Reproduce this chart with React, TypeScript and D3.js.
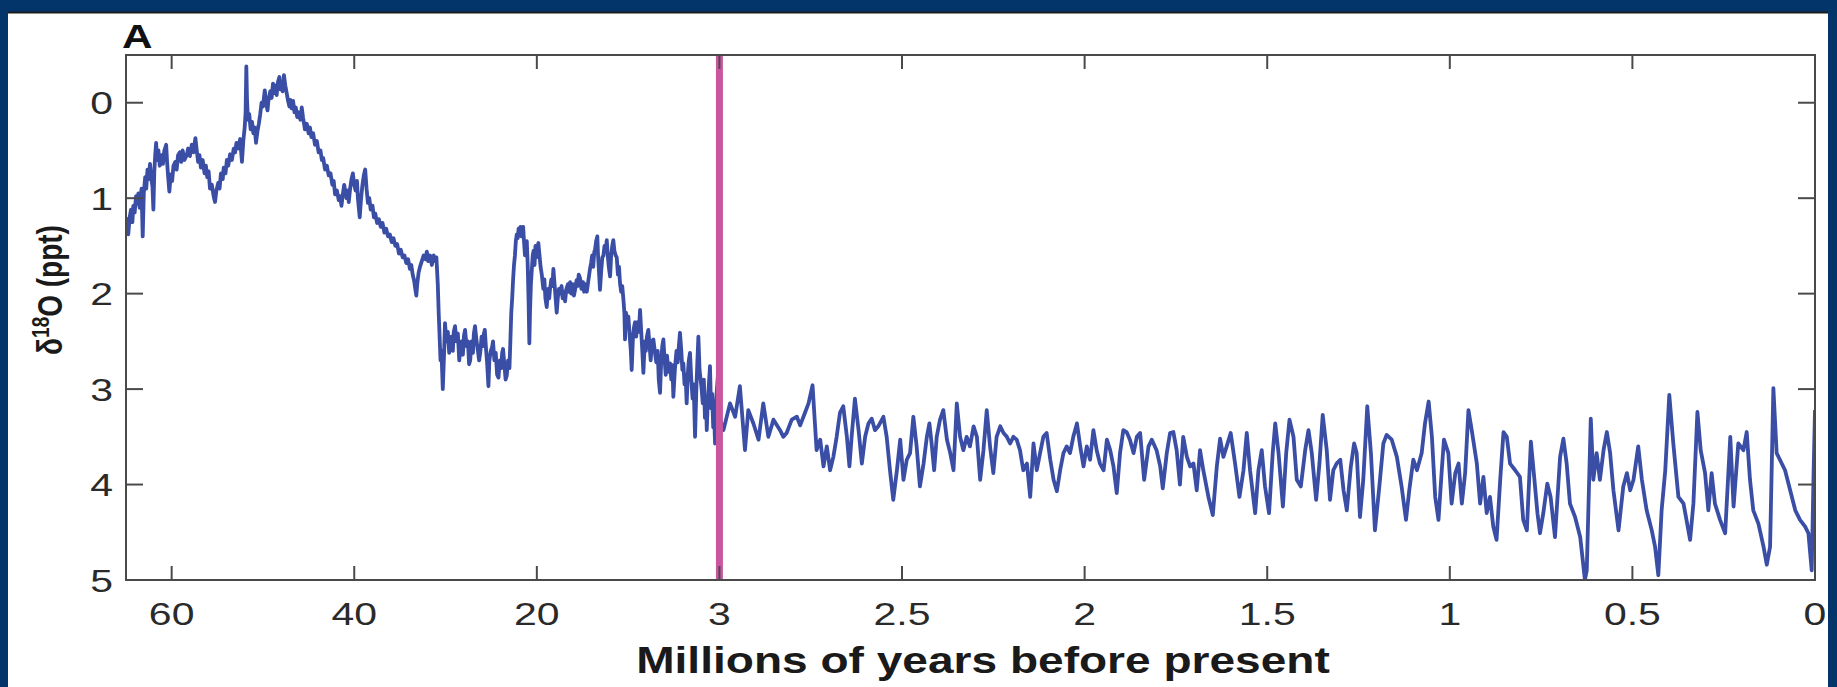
import React from "react";
import * as d3 from "d3";

// Benthic δ18O record, ages in Ma, values in per mil (ppt)
const paleoceneEocene: [number, number][] = [
  [65.0, 1.35], [64.85, 1.22], [64.75, 1.38], [64.6, 1.2], [64.45, 1.12], [64.3, 1.25], [64.2, 1.08],
  [64.05, 1.15], [63.9, 0.98], [63.8, 1.06], [63.65, 0.95], [63.5, 1.1], [63.3, 0.9], [63.17, 1.4],
  [63.05, 0.95], [62.9, 0.78], [62.78, 0.9], [62.65, 0.7], [62.5, 0.8], [62.37, 0.64], [62.25, 0.78],
  [62.1, 0.88], [62.0, 1.12], [61.9, 0.72], [61.8, 0.55], [61.7, 0.42], [61.6, 0.6], [61.45, 0.5],
  [61.3, 0.66], [61.1, 0.55], [60.95, 0.64], [60.8, 0.5], [60.6, 0.44], [60.5, 0.62], [60.38, 0.78],
  [60.25, 0.93], [60.1, 0.75], [59.95, 0.82], [59.8, 0.66], [59.6, 0.62], [59.45, 0.7], [59.3, 0.55],
  [59.1, 0.52], [58.95, 0.62], [58.8, 0.5], [58.6, 0.6], [58.35, 0.55], [58.2, 0.48], [58.0, 0.56],
  [57.8, 0.44], [57.6, 0.52], [57.4, 0.37], [57.25, 0.5], [57.1, 0.62], [56.95, 0.55], [56.8, 0.68],
  [56.6, 0.6], [56.4, 0.74], [56.25, 0.66], [56.1, 0.78], [55.95, 0.72], [55.8, 0.9], [55.6, 0.86],
  [55.4, 0.98], [55.25, 1.04], [55.1, 0.92], [54.9, 0.84], [54.75, 0.9], [54.6, 0.74], [54.4, 0.8],
  [54.3, 0.68], [54.1, 0.74], [53.95, 0.6], [53.8, 0.66], [53.6, 0.54], [53.4, 0.6], [53.2, 0.48],
  [53.05, 0.52], [52.9, 0.42], [52.7, 0.48], [52.5, 0.38], [52.4, 0.5], [52.3, 0.62], [52.15, 0.4],
  [52.0, 0.26], [51.9, 0.1], [51.82, -0.38], [51.75, -0.05], [51.65, 0.18], [51.5, 0.12], [51.35, 0.28],
  [51.2, 0.2], [51.05, 0.32], [50.9, 0.26], [50.76, 0.42], [50.6, 0.3], [50.45, 0.22], [50.3, 0.12],
  [50.15, 0.0], [50.0, 0.04], [49.8, -0.13], [49.65, 0.0], [49.5, 0.08], [49.4, -0.02], [49.2, -0.12],
  [49.05, -0.05], [48.9, -0.2], [48.75, -0.1], [48.6, -0.18], [48.5, -0.08], [48.35, -0.22], [48.2, -0.27],
  [48.1, -0.14], [47.95, -0.2], [47.85, -0.12], [47.7, -0.29], [47.55, -0.18], [47.4, -0.1], [47.25, -0.02],
  [47.1, 0.04], [47.0, -0.03], [46.85, 0.06], [46.7, -0.02], [46.55, 0.1], [46.4, 0.05], [46.25, 0.15],
  [46.1, 0.1], [45.9, 0.18], [45.75, 0.05], [45.6, 0.16], [45.4, 0.28], [45.2, 0.22], [45.0, 0.32],
  [44.85, 0.26], [44.7, 0.36], [44.5, 0.32], [44.3, 0.44], [44.1, 0.4], [43.9, 0.52], [43.7, 0.5],
  [43.55, 0.6], [43.4, 0.58], [43.2, 0.7], [43.0, 0.66], [42.8, 0.76], [42.6, 0.74], [42.4, 0.86],
  [42.25, 0.82], [42.1, 0.96], [41.9, 0.92], [41.7, 1.02], [41.55, 0.98], [41.4, 1.08], [41.25, 0.96],
  [41.1, 0.86], [41.0, 0.92], [40.85, 1.0], [40.7, 0.92], [40.6, 1.04], [40.45, 0.9], [40.3, 0.8],
  [40.15, 0.74], [40.0, 0.86], [39.85, 0.92], [39.7, 0.82], [39.6, 1.0], [39.5, 1.1], [39.4, 1.2],
  [39.25, 1.0], [39.1, 0.86], [38.95, 0.76], [38.8, 0.7], [38.65, 0.9], [38.5, 1.05], [38.35, 1.0],
  [38.2, 1.12], [38.0, 1.08], [37.85, 1.2], [37.7, 1.16], [37.5, 1.26], [37.3, 1.22], [37.1, 1.3],
  [36.9, 1.26], [36.7, 1.36], [36.5, 1.32], [36.3, 1.4], [36.1, 1.38], [35.9, 1.46], [35.7, 1.42],
  [35.5, 1.5], [35.3, 1.48], [35.1, 1.58], [34.9, 1.54], [34.7, 1.62], [34.5, 1.6], [34.3, 1.68],
  [34.1, 1.64], [33.9, 1.74], [33.75, 1.7], [33.6, 1.8], [33.45, 1.86], [33.3, 1.96], [33.2, 2.02],
  [33.1, 1.9], [32.95, 1.78], [32.8, 1.72], [32.6, 1.66], [32.4, 1.6], [32.2, 1.64], [32.05, 1.56],
  [31.9, 1.66], [31.7, 1.6], [31.5, 1.7], [31.3, 1.6], [31.15, 1.66], [31.0, 1.62], [30.85, 1.9],
  [30.75, 2.2], [30.65, 2.45], [30.55, 2.7], [30.45, 2.6], [30.3, 3.0],
];

const oligoceneMiocenePliocene: [number, number][] = [
  [30.15, 2.6], [30.06, 2.31], [29.9, 2.5], [29.75, 2.4], [29.6, 2.62], [29.5, 2.55], [29.35, 2.45],
  [29.2, 2.6], [29.1, 2.4], [28.96, 2.34], [28.8, 2.5], [28.65, 2.42], [28.5, 2.7], [28.4, 2.6],
  [28.25, 2.5], [28.1, 2.64], [27.98, 2.44], [27.86, 2.38], [27.7, 2.55], [27.55, 2.5], [27.42, 2.74],
  [27.3, 2.7], [27.15, 2.5], [27.0, 2.62], [26.9, 2.42], [26.77, 2.34], [26.6, 2.5], [26.45, 2.6],
  [26.32, 2.7], [26.2, 2.62], [26.05, 2.45], [25.9, 2.55], [25.8, 2.42], [25.7, 2.38], [25.55, 2.6],
  [25.45, 2.72], [25.3, 2.97], [25.2, 2.7], [25.05, 2.6], [24.9, 2.56], [24.8, 2.5], [24.65, 2.7],
  [24.5, 2.62], [24.35, 2.85], [24.2, 2.88], [24.05, 2.7], [23.9, 2.78], [23.8, 2.62], [23.7, 2.58],
  [23.55, 2.75], [23.42, 2.9], [23.3, 2.86], [23.15, 2.7], [23.0, 2.78], [22.9, 2.5], [22.8, 2.2],
  [22.7, 2.05], [22.6, 1.85], [22.5, 1.7], [22.4, 1.6], [22.3, 1.45], [22.2, 1.38], [22.1, 1.42],
  [22.0, 1.32], [21.9, 1.38], [21.8, 1.3], [21.7, 1.4], [21.6, 1.34], [21.5, 1.3], [21.4, 1.46],
  [21.3, 1.6], [21.2, 1.55], [21.1, 1.45], [21.0, 1.7], [20.9, 2.1], [20.82, 2.52], [20.75, 2.2],
  [20.65, 1.9], [20.55, 1.75], [20.45, 1.6], [20.35, 1.55], [20.25, 1.7], [20.15, 1.5], [20.05, 1.62],
  [19.95, 1.52], [19.86, 1.47], [19.75, 1.6], [19.65, 1.72], [19.54, 1.8], [19.4, 1.95], [19.3, 1.85],
  [19.2, 2.05], [19.08, 2.14], [18.95, 1.95], [18.85, 2.05], [18.77, 1.95], [18.65, 1.85], [18.55, 1.92],
  [18.46, 1.74], [18.35, 1.9], [18.25, 2.05], [18.15, 2.2], [18.05, 2.05], [17.95, 1.95], [17.84, 2.0],
  [17.7, 1.92], [17.6, 2.05], [17.5, 1.98], [17.37, 2.08], [17.25, 1.95], [17.1, 1.9], [17.0, 1.98],
  [16.9, 1.88], [16.8, 2.0], [16.65, 1.9], [16.55, 2.02], [16.44, 1.96], [16.3, 1.86], [16.2, 1.92],
  [16.1, 1.8], [15.97, 1.84], [15.85, 1.95], [15.7, 1.88], [15.6, 1.98], [15.48, 1.9], [15.35, 1.98],
  [15.2, 1.86], [15.05, 1.74], [14.95, 1.68], [14.85, 1.6], [14.75, 1.72], [14.65, 1.56], [14.58, 1.54],
  [14.48, 1.45], [14.37, 1.4], [14.3, 1.6], [14.2, 1.8], [14.12, 1.96], [14.0, 1.75], [13.9, 1.62],
  [13.8, 1.6], [13.7, 1.5], [13.6, 1.56], [13.49, 1.44], [13.4, 1.6], [13.3, 1.72], [13.18, 1.82],
  [13.08, 1.6], [12.98, 1.5], [12.88, 1.44], [12.78, 1.55], [12.66, 1.6], [12.56, 1.62], [12.45, 1.8],
  [12.35, 1.72], [12.25, 1.9], [12.15, 1.98], [12.05, 1.92], [11.94, 2.06], [11.85, 2.2], [11.79, 2.48],
  [11.7, 2.2], [11.6, 2.3], [11.48, 2.24], [11.35, 2.45], [11.25, 2.6], [11.17, 2.8], [11.05, 2.45],
  [10.95, 2.35], [10.86, 2.3], [10.75, 2.45], [10.65, 2.3], [10.5, 2.4], [10.39, 2.17], [10.28, 2.4],
  [10.18, 2.6], [10.08, 2.83], [9.95, 2.5], [9.85, 2.6], [9.75, 2.45], [9.62, 2.38], [9.5, 2.55],
  [9.4, 2.7], [9.28, 2.5], [9.15, 2.48], [9.0, 2.62], [8.88, 2.72], [8.75, 2.6], [8.65, 2.9],
  [8.53, 3.04], [8.42, 2.7], [8.32, 2.55], [8.22, 2.48], [8.1, 2.7], [8.0, 2.85], [7.88, 2.65],
  [7.75, 2.82], [7.6, 2.73], [7.48, 2.9], [7.38, 2.75], [7.29, 3.08], [7.15, 2.8], [7.0, 2.6],
  [6.88, 2.72], [6.78, 2.55], [6.67, 2.41], [6.55, 2.6], [6.45, 2.8], [6.36, 2.73], [6.25, 2.95],
  [6.15, 2.85], [6.05, 3.15], [5.95, 2.85], [5.85, 2.7], [5.74, 2.62], [5.62, 2.9], [5.5, 3.1],
  [5.4, 2.95], [5.27, 3.5], [5.15, 3.0], [5.05, 2.7], [4.96, 2.45], [4.85, 2.8], [4.75, 2.9],
  [4.65, 3.01], [4.55, 3.15], [4.45, 2.9], [4.35, 3.3], [4.25, 3.1], [4.18, 3.43], [4.08, 3.1],
  [3.98, 2.95], [3.88, 2.76], [3.78, 3.2], [3.68, 3.05], [3.58, 3.4], [3.5, 3.25], [3.41, 3.57],
  [3.3, 3.1], [3.2, 2.95], [3.1, 2.8], [3.05, 3.2], [3.0, 3.3],
];

const latePliocene: [number, number][] = [
  [2.989, 3.43], [2.971, 3.15], [2.957, 3.29], [2.944, 2.97], [2.93, 3.64], [2.921, 3.22], [2.907, 3.36],
  [2.893, 3.53], [2.88, 3.15], [2.866, 3.5], [2.852, 3.32], [2.834, 3.43], [2.825, 3.5], [2.816, 3.46],
  [2.802, 3.32], [2.788, 3.29], [2.779, 3.38], [2.766, 3.25], [2.756, 3.15], [2.745, 2.96], [2.738, 3.39],
  [2.734, 3.64], [2.724, 3.53], [2.715, 3.81], [2.706, 3.6], [2.697, 3.85], [2.688, 3.71], [2.679, 3.5],
  [2.67, 3.25], [2.661, 3.18], [2.651, 3.5], [2.644, 3.81], [2.638, 3.5], [2.629, 3.1], [2.619, 3.43],
  [2.61, 3.78], [2.601, 3.5], [2.592, 3.36], [2.583, 3.31], [2.574, 3.43], [2.565, 3.39], [2.551, 3.29],
  [2.542, 3.5], [2.533, 3.85], [2.524, 4.16], [2.514, 3.85], [2.505, 3.53], [2.496, 3.95], [2.487, 3.74],
  [2.478, 3.67], [2.469, 3.29], [2.46, 3.6], [2.451, 4.02], [2.441, 3.78], [2.432, 3.5], [2.425, 3.36],
  [2.419, 3.57], [2.412, 3.85], [2.405, 3.5], [2.396, 3.32], [2.387, 3.22], [2.377, 3.53], [2.368, 3.67],
  [2.359, 3.85], [2.35, 3.15], [2.341, 3.5], [2.332, 3.64], [2.323, 3.5], [2.314, 3.6], [2.304, 3.39],
  [2.295, 3.5], [2.286, 3.95], [2.277, 3.64], [2.268, 3.22], [2.259, 3.6], [2.25, 3.88], [2.241, 3.5],
  [2.231, 3.39], [2.222, 3.46], [2.213, 3.5], [2.204, 3.57], [2.195, 3.5], [2.186, 3.53], [2.177, 3.64],
  [2.168, 3.85], [2.158, 3.78], [2.149, 4.13], [2.14, 3.57], [2.131, 3.85], [2.122, 3.67], [2.113, 3.5],
  [2.104, 3.46], [2.094, 3.74], [2.085, 3.95], [2.076, 4.07], [2.067, 3.85], [2.058, 3.67], [2.049, 3.6],
  [2.04, 3.67], [2.031, 3.5], [2.021, 3.36], [2.012, 3.6], [2.003, 3.81],
];

const earlyPleistocene: [number, number][] = [
  [1.994, 3.6], [1.985, 3.74], [1.976, 3.43], [1.967, 3.64], [1.958, 3.78], [1.948, 3.85], [1.939, 3.53],
  [1.93, 3.64], [1.921, 3.81], [1.912, 4.09], [1.903, 3.67], [1.894, 3.43], [1.885, 3.45], [1.876, 3.53],
  [1.866, 3.67], [1.857, 3.5], [1.848, 3.46], [1.837, 3.95], [1.825, 3.6], [1.816, 3.53], [1.803, 3.64],
  [1.793, 3.81], [1.786, 4.04], [1.775, 3.67], [1.766, 3.46], [1.757, 3.45], [1.748, 3.64], [1.739, 4.0],
  [1.73, 3.5], [1.72, 3.71], [1.711, 3.81], [1.702, 3.78], [1.693, 4.06], [1.684, 3.64], [1.675, 3.85],
  [1.661, 4.13], [1.649, 4.32], [1.638, 3.81], [1.629, 3.52], [1.62, 3.71], [1.611, 3.6], [1.6, 3.46],
  [1.588, 3.78], [1.576, 4.13], [1.565, 3.85], [1.556, 3.46], [1.547, 3.85], [1.533, 4.3], [1.524, 3.85],
  [1.515, 3.64], [1.506, 4.02], [1.495, 4.3], [1.485, 3.67], [1.478, 3.36], [1.469, 3.67], [1.457, 4.23],
  [1.448, 3.67], [1.439, 3.32], [1.428, 3.5], [1.419, 3.95], [1.408, 4.02], [1.396, 3.64], [1.387, 3.43],
  [1.378, 3.67], [1.366, 4.16], [1.357, 3.78], [1.348, 3.27], [1.337, 3.64], [1.328, 4.16], [1.319, 3.85],
  [1.31, 3.78], [1.3, 3.74], [1.291, 4.06], [1.282, 4.27], [1.271, 3.81], [1.262, 3.57], [1.255, 3.67],
  [1.246, 4.34], [1.237, 3.95], [1.226, 3.18], [1.216, 3.67], [1.205, 4.48], [1.193, 4.02], [1.182, 3.57],
  [1.173, 3.48], [1.159, 3.53], [1.145, 3.71], [1.132, 4.02], [1.12, 4.37], [1.111, 4.06], [1.1, 3.74],
  [1.09, 3.85], [1.077, 3.67], [1.068, 3.36], [1.058, 3.13], [1.049, 3.5], [1.04, 4.13], [1.031, 4.37],
  [1.022, 3.85], [1.016, 3.53], [1.004, 3.67],
];

const latePleistocene: [number, number][] = [
  [0.995, 4.2], [0.985, 3.88], [0.976, 3.78], [0.967, 4.2], [0.958, 3.88], [0.949, 3.22], [0.94, 3.43],
  [0.926, 3.78], [0.917, 4.2], [0.908, 3.92], [0.899, 4.3], [0.89, 4.13], [0.881, 4.44], [0.872, 4.58],
  [0.862, 3.95], [0.853, 3.45], [0.844, 3.5], [0.835, 3.78], [0.821, 3.85], [0.808, 3.92], [0.799, 4.37],
  [0.789, 4.48], [0.778, 3.55], [0.769, 3.92], [0.76, 4.3], [0.753, 4.51], [0.744, 4.3], [0.733, 3.99],
  [0.724, 4.13], [0.712, 4.55], [0.698, 3.71], [0.689, 3.52], [0.68, 3.78], [0.671, 4.2], [0.657, 4.34],
  [0.643, 4.55], [0.63, 5.0], [0.625, 4.9], [0.614, 3.31], [0.607, 3.95], [0.598, 3.67], [0.589, 3.95],
  [0.579, 3.64], [0.57, 3.45], [0.561, 3.67], [0.552, 4.06], [0.538, 4.48], [0.525, 4.02], [0.515, 3.88],
  [0.506, 4.06], [0.497, 3.95], [0.484, 3.6], [0.474, 3.95], [0.461, 4.27], [0.447, 4.48], [0.438, 4.65],
  [0.429, 4.95], [0.42, 4.27], [0.41, 3.85], [0.399, 3.06], [0.388, 3.57], [0.374, 4.13], [0.36, 4.2],
  [0.342, 4.58], [0.333, 4.2], [0.322, 3.24], [0.313, 3.64], [0.301, 3.88], [0.292, 4.27], [0.283, 3.88],
  [0.274, 4.2], [0.26, 4.37], [0.246, 4.51], [0.232, 3.5], [0.223, 4.23], [0.21, 3.57], [0.196, 3.64],
  [0.187, 3.45], [0.178, 3.95], [0.169, 4.27], [0.155, 4.41], [0.141, 4.65], [0.132, 4.84], [0.123, 4.65],
  [0.114, 2.99], [0.105, 3.67], [0.096, 3.74], [0.082, 3.85], [0.068, 4.06], [0.054, 4.27], [0.041, 4.37],
  [0.027, 4.44], [0.018, 4.51], [0.009, 4.9], [0.004, 3.9], [0.0, 3.22],
];

// Axis breaks: the older part of the record is compressed
const xBreaks = [65, 60, 40, 20, 3, 0];
const xTicks = [60, 40, 20, 3, 2.5, 2, 1.5, 1, 0.5, 0];
const xTickLabels = ["60", "40", "20", "3", "2.5", "2", "1.5", "1", "0.5", "0"];
const yTicks = [0, 1, 2, 3, 4, 5];
const yDomain: [number, number] = [-0.5, 5];
const markerAge = 3;

const W = 1837;
const H = 687;
const plot = { left: 126, right: 1815, top: 55, bottom: 580 };
const SX = 1.28; // horizontal text stretch
const FONT = "'Liberation Sans', Arial, Helvetica, sans-serif";

export default function App() {
  const step = (plot.right - plot.left) / 9.25;
  const x = d3
    .scaleLinear()
    .domain(xBreaks)
    .range([0, 0.25, 1.25, 2.25, 3.25, 9.25].map((k) => plot.left + k * step));
  const y = d3.scaleLinear().domain(yDomain).range([plot.top, plot.bottom]);

  const series = [
    ...paleoceneEocene,
    ...oligoceneMiocenePliocene,
    ...latePliocene,
    ...earlyPleistocene,
    ...latePleistocene,
  ];
  const line = d3
    .line<[number, number]>()
    .x((d) => x(d[0]))
    .y((d) => y(d[1]));

  const tickLen = 14;
  const axisColor = "#4a4a4a";

  return (
    <div>
      <style>{"body{margin:0}"}</style>
      <svg width={W} height={H} style={{ display: "block" }}>
        <rect x={0} y={0} width={W} height={H} fill="#03346a" />
        <rect x={8} y={12} width={1820} height={H - 12} fill="#ffffff" />
        <line x1={8} x2={1828} y1={12.5} y2={12.5} stroke="#1c1c1c" strokeWidth={2} />

        <defs>
          <clipPath id="plot-clip">
            <rect x={plot.left} y={plot.top} width={plot.right - plot.left} height={plot.bottom - plot.top} />
          </clipPath>
        </defs>

        <g clipPath="url(#plot-clip)">
          <path d={line(series) ?? ""} fill="none" stroke="#3a4ea6" strokeWidth={3.8} strokeLinejoin="round" />
          <line
            x1={x(markerAge)}
            x2={x(markerAge)}
            y1={plot.top}
            y2={plot.bottom}
            stroke="#c9569f"
            strokeWidth={7}
          />
        </g>

        {/* frame */}
        <rect
          x={plot.left}
          y={plot.top}
          width={plot.right - plot.left}
          height={plot.bottom - plot.top}
          fill="none"
          stroke={axisColor}
          strokeWidth={2}
        />

        {/* x ticks, top and bottom, inward */}
        {xTicks.map((t, i) => (
          <g key={`xt${i}`}>
            <line x1={x(t)} x2={x(t)} y1={plot.bottom} y2={plot.bottom - tickLen} stroke={axisColor} strokeWidth={2} />
            <line x1={x(t)} x2={x(t)} y1={plot.top} y2={plot.top + tickLen} stroke={axisColor} strokeWidth={2} />
            <text
              transform={`translate(${x(t)},625) scale(${SX},1)`}
              textAnchor="middle"
              fontFamily={FONT}
              fontSize={32}
              fill="#2a2a2a"
            >
              {xTickLabels[i]}
            </text>
          </g>
        ))}

        {/* y ticks, left and right, inward */}
        {yTicks.map((t) => (
          <g key={`yt${t}`}>
            <line x1={plot.left} x2={plot.left + 17} y1={y(t)} y2={y(t)} stroke={axisColor} strokeWidth={2} />
            <line x1={plot.right} x2={plot.right - 17} y1={y(t)} y2={y(t)} stroke={axisColor} strokeWidth={2} />
            <text
              transform={`translate(113,${y(t) + 11.5}) scale(${SX},1)`}
              textAnchor="end"
              fontFamily={FONT}
              fontSize={32}
              fill="#2a2a2a"
            >
              {t}
            </text>
          </g>
        ))}

        {/* panel letter */}
        <text transform={`translate(122,48) scale(${SX},1)`} fontFamily={FONT} fontSize={33} fontWeight="bold" fill="#111">
          A
        </text>

        {/* axis titles */}
        <text
          transform={`translate(${(636 + 1330) / 2},673) scale(${SX},1)`}
          textAnchor="middle"
          fontFamily={FONT}
          fontSize={36}
          fontWeight="bold"
          fill="#1a1a1a"
        >
          Millions of years before present
        </text>
        <text
          transform={`translate(62,290) scale(${SX},1) rotate(-90)`}
          textAnchor="middle"
          fontFamily={FONT}
          fontSize={28}
          fontWeight="bold"
          fill="#1a1a1a"
        >
          δ
          <tspan fontSize={19} dy={-10}>
            18
          </tspan>
          <tspan dy={10}>O (ppt)</tspan>
        </text>
      </svg>
    </div>
  );
}
